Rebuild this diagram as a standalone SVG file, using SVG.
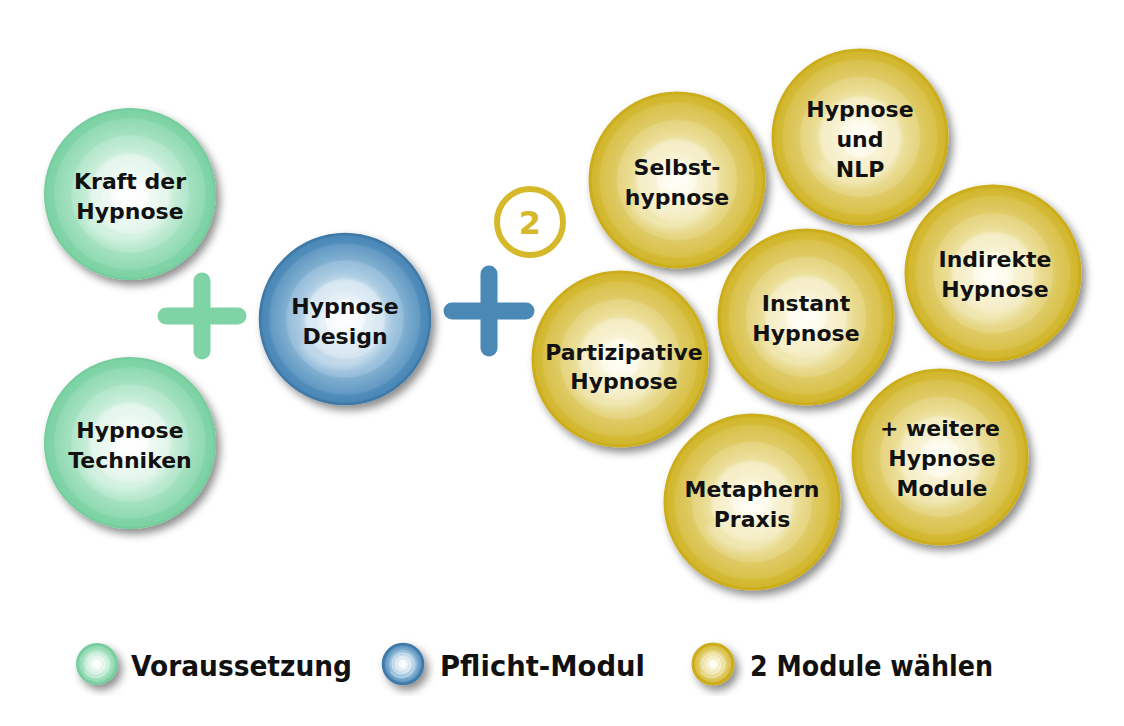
<svg xmlns="http://www.w3.org/2000/svg" xmlns:xlink="http://www.w3.org/1999/xlink" width="1124" height="726" viewBox="0 0 1124 726">
  <defs>
    <radialGradient id="gGreen" cx="0.5" cy="0.5" r="0.5">
      <stop offset="0" stop-color="#ffffff"/>
      <stop offset="0.22" stop-color="#f7fcf9"/>
      <stop offset="0.24" stop-color="#e9f8f0"/>
      <stop offset="0.46" stop-color="#d9f2e5"/>
      <stop offset="0.48" stop-color="#c9eeda"/>
      <stop offset="0.68" stop-color="#b4e7cb"/>
      <stop offset="0.7" stop-color="#a4e1c0"/>
      <stop offset="0.88" stop-color="#90dab2"/>
      <stop offset="0.9" stop-color="#81d4a7"/>
      <stop offset="1" stop-color="#7bd2a3"/>
    </radialGradient>
    <radialGradient id="gBlue" cx="0.5" cy="0.5" r="0.5">
      <stop offset="0" stop-color="#ffffff"/>
      <stop offset="0.22" stop-color="#f2f7fb"/>
      <stop offset="0.24" stop-color="#e0edf5"/>
      <stop offset="0.46" stop-color="#c8dded"/>
      <stop offset="0.48" stop-color="#b2d0e5"/>
      <stop offset="0.68" stop-color="#95bdda"/>
      <stop offset="0.7" stop-color="#80afd0"/>
      <stop offset="0.88" stop-color="#6299c3"/>
      <stop offset="0.9" stop-color="#518dbb"/>
      <stop offset="1" stop-color="#4986b6"/>
    </radialGradient>
    <radialGradient id="gYellow" cx="0.5" cy="0.5" r="0.5">
      <stop offset="0" stop-color="#fffff8"/>
      <stop offset="0.22" stop-color="#fcf8e2"/>
      <stop offset="0.24" stop-color="#f7f0ca"/>
      <stop offset="0.46" stop-color="#f1e6b0"/>
      <stop offset="0.48" stop-color="#ece09c"/>
      <stop offset="0.68" stop-color="#e5d47f"/>
      <stop offset="0.7" stop-color="#dfcb66"/>
      <stop offset="0.88" stop-color="#d9c14b"/>
      <stop offset="0.9" stop-color="#d4ba35"/>
      <stop offset="1" stop-color="#d1b52b"/>
    </radialGradient>
    <filter id="shadow" x="-30%" y="-30%" width="160%" height="160%">
      <feDropShadow dx="4" dy="5" stdDeviation="4" flood-color="#000" flood-opacity="0.45"/>
    </filter>
    <filter id="soft" x="-20%" y="-20%" width="140%" height="140%">
      <feGaussianBlur stdDeviation="3"/>
    </filter>
    <path id="spiral" d="M 0 0 A 6 6 0 0 1 12 0 A 12 12 0 0 1 -12 0 A 18 18 0 0 1 24 0 A 24 24 0 0 1 -24 0 A 30 30 0 0 1 36 0 A 36 36 0 0 1 -36 0 A 42 42 0 0 1 48 0"/>
    <style>
      .node text { font-family: "DejaVu Sans", "Liberation Sans", sans-serif; font-weight: 700; font-size: 22px; fill: #111; text-anchor: middle; }
      .legend text { font-family: "DejaVu Sans", "Liberation Sans", sans-serif; font-weight: 700; font-size: 29px; fill: #111; }
      .green { fill: url(#gGreen); stroke: #74cc9c; stroke-width: 2; }
      .blue { fill: url(#gBlue); stroke: #3f79a6; stroke-width: 2.5; }
      .yellow { fill: url(#gYellow); stroke: #ccae1e; stroke-width: 3; }
      .sp { fill: none; stroke: #ffffff; stroke-width: 9; stroke-opacity: 0.3; filter: url(#soft); }
      .spl { fill: none; stroke: #ffffff; stroke-width: 4; stroke-opacity: 0.4; }
      .plus { fill: none; stroke-linecap: round; stroke-width: 17; }
    </style>
  </defs>
  <rect width="1124" height="726" fill="#ffffff"/>

  <g id="operators">
    <path class="plus" stroke="#7fd4a6" d="M 166 316 H 238 M 202 281 V 351"/>
    <path class="plus" stroke="#4a88b5" d="M 452 311 H 526 M 489 274 V 348"/>
    <g id="badge-2">
      <circle cx="530" cy="222" r="33" fill="none" stroke="#d6b92a" stroke-width="6"/>
      <text x="530" y="234" font-family="'DejaVu Sans', 'Liberation Sans', sans-serif" font-weight="700" font-size="32" fill="#d6b92a" text-anchor="middle">2</text>
    </g>
  </g>

  <g id="kraft-der-hypnose" class="node">
    <circle class="green" cx="130" cy="194" r="85" filter="url(#shadow)"/>
    <use href="#spiral" class="sp" transform="translate(130 194) rotate(150)"/>
    <text x="130" y="189">Kraft der</text>
    <text x="130" y="219">Hypnose</text>
  </g>
  <g id="hypnose-techniken" class="node">
    <circle class="green" cx="130" cy="443" r="85" filter="url(#shadow)"/>
    <use href="#spiral" class="sp" transform="translate(130 443) rotate(150)"/>
    <text x="130" y="438">Hypnose</text>
    <text x="130" y="468">Techniken</text>
  </g>
  <g id="hypnose-design" class="node">
    <circle class="blue" cx="345" cy="319" r="85" filter="url(#shadow)"/>
    <use href="#spiral" class="sp" transform="translate(345 319) rotate(150)"/>
    <text x="345" y="314">Hypnose</text>
    <text x="345" y="344">Design</text>
  </g>

  <g id="selbsthypnose" class="node">
    <circle class="yellow" cx="677" cy="180" r="87" filter="url(#shadow)"/>
    <use href="#spiral" class="sp" transform="translate(677 180) rotate(150)"/>
    <text x="677" y="175">Selbst-</text>
    <text x="677" y="205">hypnose</text>
  </g>
  <g id="hypnose-und-nlp" class="node">
    <circle class="yellow" cx="860" cy="137" r="87" filter="url(#shadow)"/>
    <use href="#spiral" class="sp" transform="translate(860 137) rotate(150)"/>
    <text x="860" y="117">Hypnose</text>
    <text x="860" y="147">und</text>
    <text x="860" y="177">NLP</text>
  </g>
  <g id="indirekte-hypnose" class="node">
    <circle class="yellow" cx="993" cy="273" r="87" filter="url(#shadow)"/>
    <use href="#spiral" class="sp" transform="translate(993 273) rotate(150)"/>
    <text x="995" y="267">Indirekte</text>
    <text x="995" y="297">Hypnose</text>
  </g>
  <g id="instant-hypnose" class="node">
    <circle class="yellow" cx="806" cy="317" r="87" filter="url(#shadow)"/>
    <use href="#spiral" class="sp" transform="translate(806 317) rotate(150)"/>
    <text x="806" y="311">Instant</text>
    <text x="806" y="341">Hypnose</text>
  </g>
  <g id="partizipative-hypnose" class="node">
    <circle class="yellow" cx="620" cy="359" r="87" filter="url(#shadow)"/>
    <use href="#spiral" class="sp" transform="translate(620 359) rotate(150)"/>
    <text x="624" y="360">Partizipative</text>
    <text x="624" y="389">Hypnose</text>
  </g>
  <g id="weitere-hypnose-module" class="node">
    <circle class="yellow" cx="940" cy="457" r="87" filter="url(#shadow)"/>
    <use href="#spiral" class="sp" transform="translate(940 457) rotate(150)"/>
    <text x="940" y="436">+ weitere</text>
    <text x="942" y="466">Hypnose</text>
    <text x="942" y="496">Module</text>
  </g>
  <g id="metaphern-praxis" class="node">
    <circle class="yellow" cx="752" cy="502" r="87" filter="url(#shadow)"/>
    <use href="#spiral" class="sp" transform="translate(752 502) rotate(150)"/>
    <text x="752" y="497">Metaphern</text>
    <text x="752" y="527">Praxis</text>
  </g>

  <g id="legend" class="legend">
    <g id="legend-voraussetzung">
      <circle class="green" cx="97" cy="664" r="20" filter="url(#shadow)"/>
      <use href="#spiral" class="spl" transform="translate(97 664) rotate(150) scale(0.3)"/>
      <text x="131" y="676" textLength="221" lengthAdjust="spacingAndGlyphs">Voraussetzung</text>
    </g>
    <g id="legend-pflicht">
      <circle class="blue" cx="403" cy="664" r="20" filter="url(#shadow)"/>
      <use href="#spiral" class="spl" transform="translate(403 664) rotate(150) scale(0.3)"/>
      <text x="440" y="676" textLength="205" lengthAdjust="spacingAndGlyphs">Pflicht-Modul</text>
    </g>
    <g id="legend-wahl">
      <circle class="yellow" cx="713" cy="664" r="20" filter="url(#shadow)"/>
      <use href="#spiral" class="spl" transform="translate(713 664) rotate(150) scale(0.3)"/>
      <text x="750" y="676" textLength="243" lengthAdjust="spacingAndGlyphs">2 Module wählen</text>
    </g>
  </g>
</svg>
